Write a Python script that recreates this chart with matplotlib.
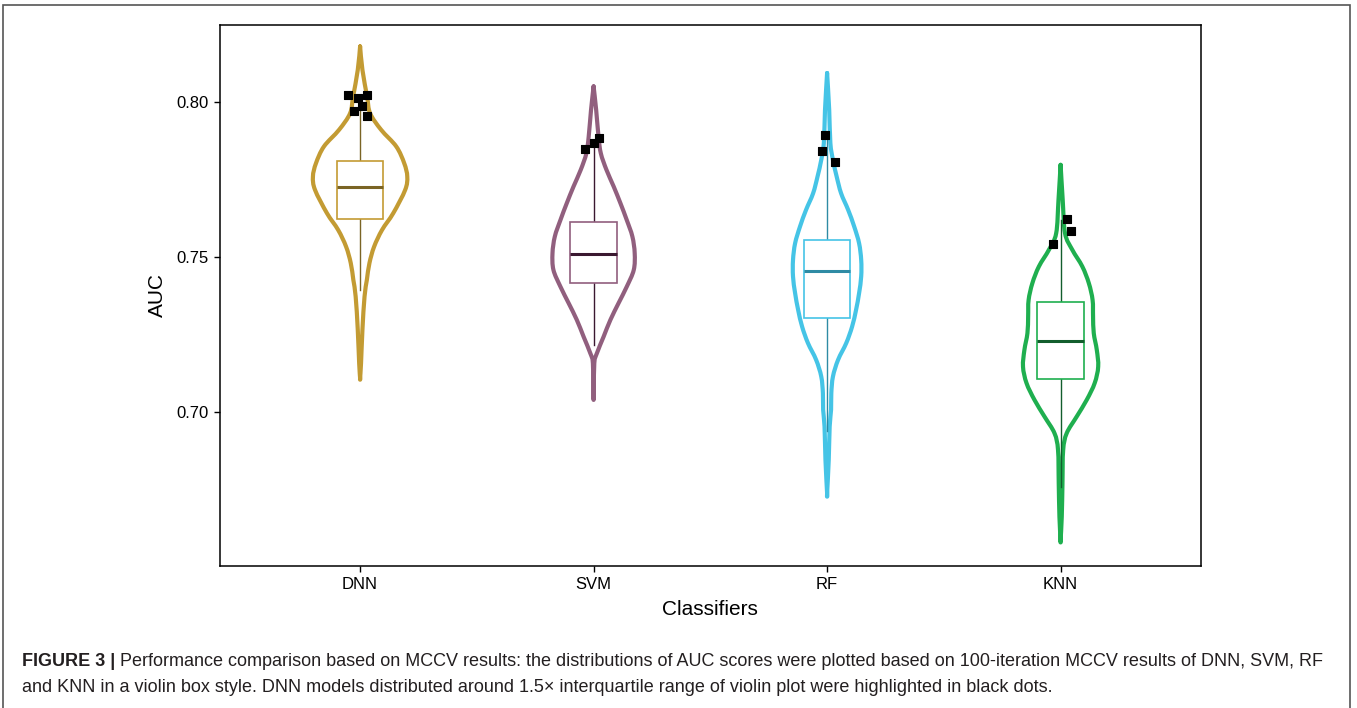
import matplotlib
matplotlib.use("Agg")
import numpy as np
import matplotlib.pyplot as plt
from matplotlib.path import Path
from matplotlib.patches import PathPatch, Rectangle

plt.rcParams['font.family'] = ['Liberation Sans', 'DejaVu Sans']

classifiers = ["DNN", "SVM", "RF", "KNN"]
colors = ["#C39B33", "#915F7E", "#45C4E6", "#1FAF4F"]
dark_colors = ["#7A6424", "#3A1830", "#2F8BA4", "#135E2D"]

# violin outlines: AUC level and half width (in category units)
dnn_y = [0.8179, 0.8103, 0.8017, 0.7963, 0.7910, 0.7856, 0.7802, 0.7759, 0.7716,
         0.7641, 0.7587, 0.7533, 0.7480, 0.7426, 0.7372, 0.7265, 0.7157, 0.7109]
dnn_hw = [0, 0.010, 0.030, 0.043, 0.090, 0.155, 0.189, 0.202, 0.193,
          0.142, 0.094, 0.060, 0.040, 0.029, 0.019, 0.010, 0.004, 0]

svm_y = [0.8050, 0.7974, 0.7888, 0.7834, 0.7781, 0.7727, 0.7673, 0.7619, 0.7566,
         0.7512, 0.7458, 0.7404, 0.7351, 0.7297, 0.7243, 0.7189, 0.7157, 0.7050]
svm_hw = [0, 0.011, 0.021, 0.031, 0.055, 0.086, 0.115, 0.142, 0.166,
          0.176, 0.172, 0.142, 0.107, 0.072, 0.043, 0.014, 0.003, 0]

rf_y = [0.8093, 0.7974, 0.7867, 0.7813, 0.7759, 0.7705, 0.7652, 0.7598, 0.7544,
        0.7490, 0.7437, 0.7383, 0.7329, 0.7275, 0.7222, 0.7168, 0.7114, 0.7060,
        0.7007, 0.6953, 0.6845, 0.6738]
rf_hw = [0, 0.009, 0.014, 0.025, 0.041, 0.060, 0.090, 0.116, 0.137,
         0.146, 0.146, 0.137, 0.124, 0.107, 0.082, 0.047, 0.025, 0.018,
         0.017, 0.011, 0.007, 0]

knn_y = [0.7797, 0.7684, 0.7576, 0.7523, 0.7469, 0.7415, 0.7361, 0.7308, 0.7254,
         0.7200, 0.7146, 0.7093, 0.7039, 0.6985, 0.6931, 0.6877, 0.6770, 0.6662, 0.6587]
knn_hw = [0, 0.009, 0.019, 0.050, 0.093, 0.121, 0.137, 0.139, 0.142,
          0.155, 0.161, 0.146, 0.112, 0.069, 0.026, 0.011, 0.008, 0.005, 0]

violin_y = [dnn_y, svm_y, rf_y, knn_y]
violin_hw = [dnn_hw, svm_hw, rf_hw, knn_hw]

# box statistics: whisker low, q1, median, q3, whisker high
whisker_lo = [0.7394, 0.7216, 0.6937, 0.6759]
q1 = [0.7622, 0.7417, 0.7302, 0.7107]
median = [0.7725, 0.7509, 0.7453, 0.7230]
q3 = [0.7808, 0.7614, 0.7553, 0.7353]
whisker_hi = [0.7969, 0.7856, 0.7877, 0.7619]

# highlighted points (jitter offset from category centre, AUC)
dnn_pts_dx = [-0.050, -0.011, 0.029, 0.010, -0.024, 0.031]
dnn_pts_y = [0.8023, 0.8012, 0.8023, 0.7987, 0.7972, 0.7956]
svm_pts_dx = [-0.036, 0.003, 0.021]
svm_pts_y = [0.7848, 0.7869, 0.7883]
rf_pts_dx = [-0.009, -0.023, 0.034]
rf_pts_y = [0.7894, 0.7842, 0.7807]
knn_pts_dx = [0.026, 0.043, -0.031]
knn_pts_y = [0.7622, 0.7582, 0.7542]
pts_dx = [dnn_pts_dx, svm_pts_dx, rf_pts_dx, knn_pts_dx]
pts_y = [dnn_pts_y, svm_pts_y, rf_pts_y, knn_pts_y]

yticks = [0.70, 0.75, 0.80]


def smooth_path(xs, ys):
    # Catmull-Rom through the points, drawn as cubic bezier segments
    pts = np.column_stack([xs, ys])
    verts = [pts[0]]
    codes = [Path.MOVETO]
    n = len(pts)
    for i in range(n - 1):
        p0 = pts[max(i - 1, 0)]
        p1 = pts[i]
        p2 = pts[i + 1]
        p3 = pts[min(i + 2, n - 1)]
        c1 = p1 + (p2 - p0) / 6.0
        c2 = p2 - (p3 - p1) / 6.0
        verts += [c1, c2, p2]
        codes += [Path.CURVE4] * 3
    return Path(verts, codes)


fig = plt.figure(figsize=(13.57, 7.08), dpi=100)
ax = fig.add_axes([220 / 1357, 1 - 565.7 / 708, (1200.7 - 220) / 1357, (565.7 - 25) / 708])

for i, name in enumerate(classifiers):
    pos = i + 1
    y = np.array(violin_y[i])
    hw = np.array(violin_hw[i])
    xs = np.concatenate([pos - hw, (pos + hw)[::-1]])
    ys = np.concatenate([y, y[::-1]])
    ax.add_patch(PathPatch(smooth_path(xs, ys), facecolor="none", edgecolor=colors[i],
                           lw=3.0, joinstyle="round", capstyle="round", zorder=2))

    # whiskers
    ax.plot([pos, pos], [whisker_lo[i], q1[i]], color=dark_colors[i], lw=1.0, zorder=3)
    ax.plot([pos, pos], [q3[i], whisker_hi[i]], color=dark_colors[i], lw=1.0, zorder=3)
    # box
    ax.add_patch(Rectangle((pos - 0.1, q1[i]), 0.2, q3[i] - q1[i], facecolor="white",
                           edgecolor=colors[i], lw=1.2, zorder=3))
    ax.plot([pos - 0.1, pos + 0.1], [median[i], median[i]], color=dark_colors[i],
            lw=2.2, solid_capstyle="butt", zorder=4)

    ax.scatter(pos + np.array(pts_dx[i]), pts_y[i], marker="s", s=38, color="black",
               edgecolors="black", linewidths=0.8, zorder=5)

ax.set_xlim(0.4, 4.6)
ax.set_ylim(0.6504, 0.8248)
ax.set_xticks(range(1, 5))
ax.set_xticklabels(classifiers)
ax.set_yticks(yticks)
ax.set_yticklabels([f"{v:.2f}" for v in yticks])
ax.tick_params(axis="both", direction="out", length=4, width=1, labelsize=12, pad=4)
for s in ax.spines.values():
    s.set_linewidth(1.1)
    s.set_color("black")
ax.set_xlabel("Classifiers", fontsize=15, labelpad=6)
ax.set_ylabel("AUC", fontsize=15, labelpad=7)

# outer frame of the figure panel
frame = Rectangle((3 / 1357, -0.05), (1350 - 3) / 1357, 1.05 - 5 / 708, transform=fig.transFigure,
                  facecolor="none", edgecolor="#555555", lw=1.2, clip_on=False)
fig.patches.append(frame)

# caption
cap_font = ['Liberation Sans Narrow', 'Liberation Sans', 'DejaVu Sans']
cap_size = 13
bold = fig.text(22 / 1357, 1 - 662 / 708, "FIGURE 3 |", fontsize=cap_size, fontweight="bold",
                family=cap_font, va="center", color="#231F20")
fig.canvas.draw()
bb = bold.get_window_extent()
x0 = (bb.x1 + 5) / 1357
fig.text(x0, 1 - 662 / 708,
         "Performance comparison based on MCCV results: the distributions of AUC scores were "
         "plotted based on 100-iteration MCCV results of DNN, SVM, RF",
         fontsize=cap_size, family=cap_font, va="center", color="#231F20")
fig.text(22 / 1357, 1 - 688 / 708,
         "and KNN in a violin box style. DNN models distributed around 1.5\u00d7 interquartile "
         "range of violin plot were highlighted in black dots.",
         fontsize=cap_size, family=cap_font, va="center", color="#231F20")

fig.savefig("out.png", dpi=100)
